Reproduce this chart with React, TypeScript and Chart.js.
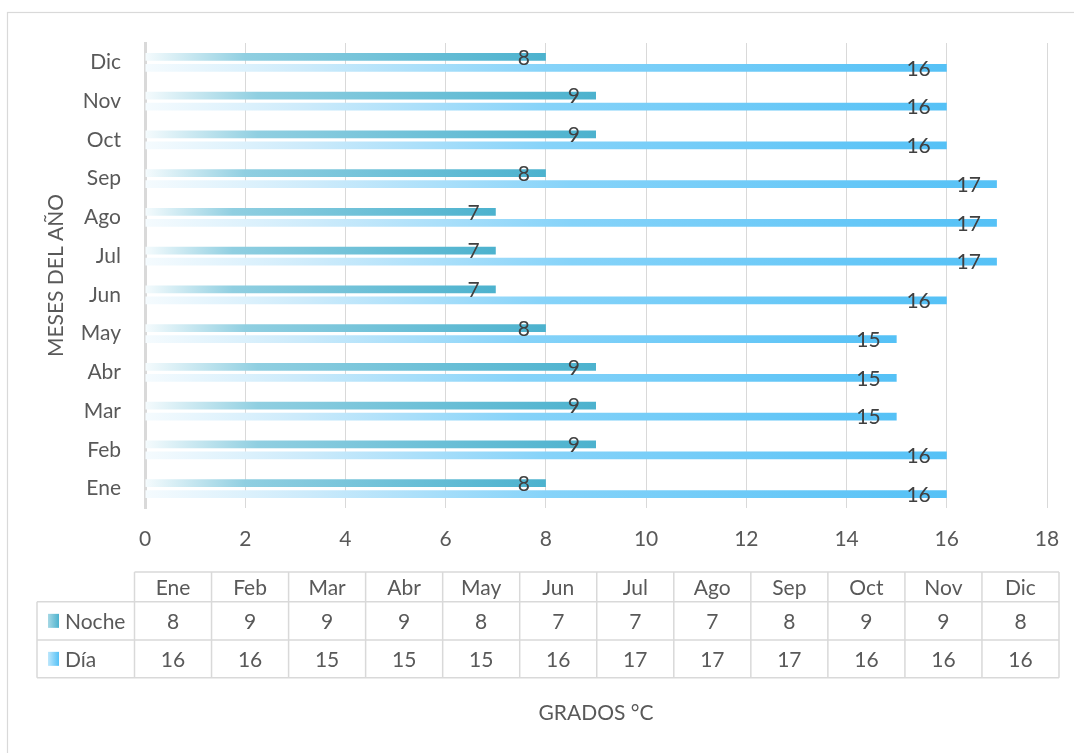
import { useEffect, useRef } from 'react';
import { Chart, registerables } from 'chart.js';

Chart.register(...registerables);

// ---- data ----
const months = ['Ene', 'Feb', 'Mar', 'Abr', 'May', 'Jun', 'Jul', 'Ago', 'Sep', 'Oct', 'Nov', 'Dic'];
const noche = [8, 9, 9, 9, 8, 7, 7, 7, 8, 9, 9, 8];
const dia = [16, 16, 15, 15, 15, 16, 17, 17, 17, 16, 16, 16];
const seriesNames = ['Noche', 'Día'];
const xMin = 0;
const xMax = 18;
const xStep = 2;
const yTitle = 'MESES DEL AÑO';
const xTitle = 'GRADOS °C';

// ---- style ----
const FONT = 'Lato';
const TEXT = '#595959';
const LABEL = '#404040';
const GRID = '#d9d9d9';
const nocheStops: [number, string][] = [[0, '#f5fbfd'], [0.25, '#90cfe1'], [1, '#4cb2ce']];
const diaStops: [number, string][] = [[0, '#f5fbfe'], [0.2, '#cdebfb'], [0.5, '#86d3f9'], [1, '#55c1f6']];
const keyStops = [
  [[0, '#a6d8e5'], [1, '#4cb2ce']],
  [[0, '#bde7fc'], [1, '#55c1f6']],
] as [number, string][][];

function barGradient(stops: [number, string][]) {
  return (ctx: any) => {
    const chart = ctx.chart;
    const xs = chart.scales?.x;
    if (!chart.chartArea || !xs || typeof ctx.raw !== 'number') return stops[stops.length - 1][1];
    const x0 = xs.getPixelForValue(0);
    const x1 = xs.getPixelForValue(ctx.raw);
    const g = chart.ctx.createLinearGradient(x0, 0, x1, 0);
    stops.forEach(([o, c]) => g.addColorStop(o, c));
    return g;
  };
}

const borderPlugin = {
  id: 'outerBorder',
  beforeDraw(chart: any) {
    const c = chart.ctx;
    c.save();
    c.fillStyle = '#ffffff';
    c.fillRect(0, 0, chart.width, chart.height);
    c.strokeStyle = GRID;
    c.lineWidth = 1.2;
    c.strokeRect(7.5, 12.5, chart.width + 50, chart.height + 50);
    c.restore();
  },
};

const valueLabelPlugin = {
  id: 'valueLabels',
  afterDatasetsDraw(chart: any) {
    const c = chart.ctx;
    c.save();
    c.font = `21px ${FONT}`;
    c.fillStyle = LABEL;
    c.textAlign = 'right';
    c.textBaseline = 'middle';
    chart.data.datasets.forEach((ds: any, di: number) => {
      const meta = chart.getDatasetMeta(di);
      meta.data.forEach((el: any, i: number) => {
        c.fillText(String(ds.data[i]), el.x - 16, el.y + 1);
      });
    });
    c.restore();
  },
};

const tablePlugin = {
  id: 'dataTable',
  afterDraw(chart: any) {
    const c = chart.ctx;
    const keyLeft = 37;
    const left = 134.5;
    const right = 1059;
    const colW = (right - left) / months.length;
    const rows = [572, 601.7, 640, 677.7];
    c.save();
    c.strokeStyle = GRID;
    c.lineWidth = 1.5;
    c.beginPath();
    c.moveTo(left, rows[0]);
    c.lineTo(right, rows[0]);
    for (let r = 1; r < rows.length; r++) {
      c.moveTo(keyLeft, rows[r]);
      c.lineTo(right, rows[r]);
    }
    c.moveTo(keyLeft, rows[1]);
    c.lineTo(keyLeft, rows[3]);
    for (let k = 0; k <= months.length; k++) {
      const x = left + k * colW;
      c.moveTo(x, rows[0]);
      c.lineTo(x, rows[3]);
    }
    c.stroke();

    c.font = `21px ${FONT}`;
    c.fillStyle = TEXT;
    c.textBaseline = 'middle';
    c.textAlign = 'center';
    const series = [noche, dia];
    months.forEach((m, i) => {
      const cx = left + (i + 0.5) * colW;
      c.fillText(m, cx, (rows[0] + rows[1]) / 2 + 1);
      series.forEach((s, si) => {
        c.fillText(String(s[i]), cx, (rows[si + 1] + rows[si + 2]) / 2 + 1);
      });
    });
    c.textAlign = 'left';
    seriesNames.forEach((name, si) => {
      const cy = (rows[si + 1] + rows[si + 2]) / 2;
      const g = c.createLinearGradient(48, 0, 59, 0);
      keyStops[si].forEach(([o, col]) => g.addColorStop(o, col));
      c.fillStyle = g;
      c.fillRect(48, cy - 7, 11, 14);
      c.fillStyle = TEXT;
      c.fillText(name, 65, cy + 1);
    });
    c.restore();
  },
};

export default function App() {
  const ref = useRef<HTMLCanvasElement | null>(null);

  useEffect(() => {
    document.body.style.margin = '0';
    let chart: Chart | null = null;
    let cancelled = false;
    const make = () => {
      if (cancelled || !ref.current) return;
      const labels = [...months].reverse();
      chart = new Chart(ref.current, {
        type: 'bar',
        data: {
          labels,
          datasets: [
            {
              label: seriesNames[0],
              data: [...noche].reverse(),
              backgroundColor: barGradient(nocheStops),
              categoryPercentage: 0.57,
              barPercentage: 0.7,
            },
            {
              label: seriesNames[1],
              data: [...dia].reverse(),
              backgroundColor: barGradient(diaStops),
              categoryPercentage: 0.57,
              barPercentage: 0.7,
            },
          ],
        },
        options: {
          indexAxis: 'y',
          animation: false,
          responsive: true,
          maintainAspectRatio: false,
          layout: { padding: { left: 0, right: 27, top: 43, bottom: 0 } },
          plugins: {
            legend: { display: false },
            tooltip: { enabled: false },
          },
          scales: {
            x: {
              min: xMin,
              max: xMax,
              ticks: {
                stepSize: xStep,
                color: TEXT,
                font: { family: FONT, size: 21 },
                padding: 3,
              },
              grid: {
                color: GRID,
                lineWidth: 1,
                drawTicks: true,
                tickLength: 16,
                tickColor: 'rgba(0,0,0,0)',
              },
              border: { display: false },
              title: {
                display: true,
                text: xTitle,
                color: TEXT,
                font: { family: FONT, size: 21 },
                padding: { top: 0, bottom: 27 },
              },
              afterFit(scale: any) {
                scale.height = 753 - 508;
              },
            },
            y: {
              ticks: {
                color: TEXT,
                font: { family: FONT, size: 21 },
                padding: 24,
              },
              grid: { display: false, drawTicks: false },
              border: { display: true, color: GRID, width: 3 },
              title: {
                display: true,
                text: yTitle,
                color: TEXT,
                font: { family: FONT, size: 21 },
                padding: { top: 44, bottom: 0 },
              },
              afterFit(scale: any) {
                scale.width = 145;
              },
            },
          },
        },
        plugins: [borderPlugin, valueLabelPlugin, tablePlugin],
      });
    };
    const fontsApi = (document as any).fonts;
    if (fontsApi && fontsApi.load) {
      fontsApi.load(`21px ${FONT}`).then(make, make);
    } else {
      make();
    }
    return () => {
      cancelled = true;
      if (chart) chart.destroy();
    };
  }, []);

  return (
    <div style={{ position: 'relative', width: 1074, height: 753 }}>
      <canvas ref={ref} />
    </div>
  );
}
